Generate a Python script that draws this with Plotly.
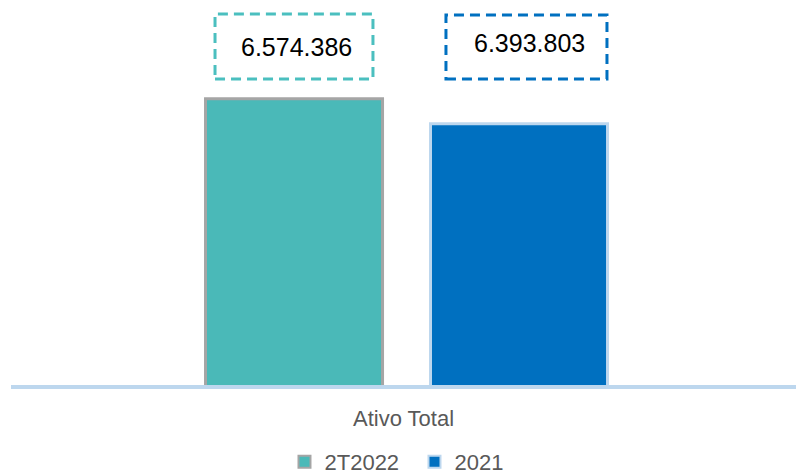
import plotly.graph_objects as go

categories = ["Ativo Total"]
series_names = ["2T2022", "2021"]
values_2t2022 = [6574386]
values_2021 = [6393803]
label_2t2022 = "6.574.386"
label_2021 = "6.393.803"

FONT = "Liberation Sans, Arial, sans-serif"
TEAL = "#4AB9B8"
BLUE = "#0070C0"

fig = go.Figure()
fig.add_trace(go.Bar(
    x=categories, y=values_2t2022, name=series_names[0],
    marker=dict(color=TEAL, line=dict(color="#A5A5A5", width=3)),
    width=0.2255, offset=-0.2522,
))
fig.add_trace(go.Bar(
    x=categories, y=values_2021, name=series_names[1],
    marker=dict(color=BLUE, line=dict(color="#BDD7EE", width=3)),
    width=0.2255, offset=0.0344,
))

# dashed label boxes
fig.add_shape(type="rect", xref="paper", yref="paper",
              x0=0.2599, x1=0.4611, y0=0.887, y1=1.0754,
              line=dict(color="#4BBFBF", width=3, dash="10px,6px"),
              fillcolor="rgba(0,0,0,0)")
fig.add_shape(type="rect", xref="paper", yref="paper",
              x0=0.5541, x1=0.7592, y0=0.887, y1=1.0725,
              line=dict(color=BLUE, width=3, dash="10px,6px"),
              fillcolor="rgba(0,0,0,0)")
fig.add_annotation(xref="paper", yref="paper", x=0.3643, y=0.9797,
                   text=label_2t2022, showarrow=False,
                   font=dict(family=FONT, size=25, color="#000000"),
                   xanchor="center", yanchor="middle")
fig.add_annotation(xref="paper", yref="paper", x=0.6599, y=0.9913,
                   text=label_2021, showarrow=False,
                   font=dict(family=FONT, size=25, color="#000000"),
                   xanchor="center", yanchor="middle")

fig.update_layout(
    width=796, height=475,
    margin=dict(l=11, r=0, t=40, b=90),
    paper_bgcolor="white", plot_bgcolor="white",
    barmode="group",
    showlegend=True,
    legend=dict(orientation="h", xref="paper", x=0.3484, xanchor="left",
                yref="container", y=13 / 475, yanchor="middle",
                entrywidth=85,
                font=dict(family=FONT, size=22, color="#595959"),
                itemsizing="constant", traceorder="normal"),
    xaxis=dict(showline=True, linecolor="#BDD7EE", linewidth=4,
               showgrid=False, zeroline=False,
               ticks="outside", ticklen=11, tickcolor="rgba(0,0,0,0)",
               tickfont=dict(family=FONT, size=22, color="#595959")),
    yaxis=dict(range=[4500000, 7000000], visible=False, showgrid=False, zeroline=False),
)

fig.write_html("out.html", config={"displayModeBar": False},
               post_script="document.body.style.margin='0';")
